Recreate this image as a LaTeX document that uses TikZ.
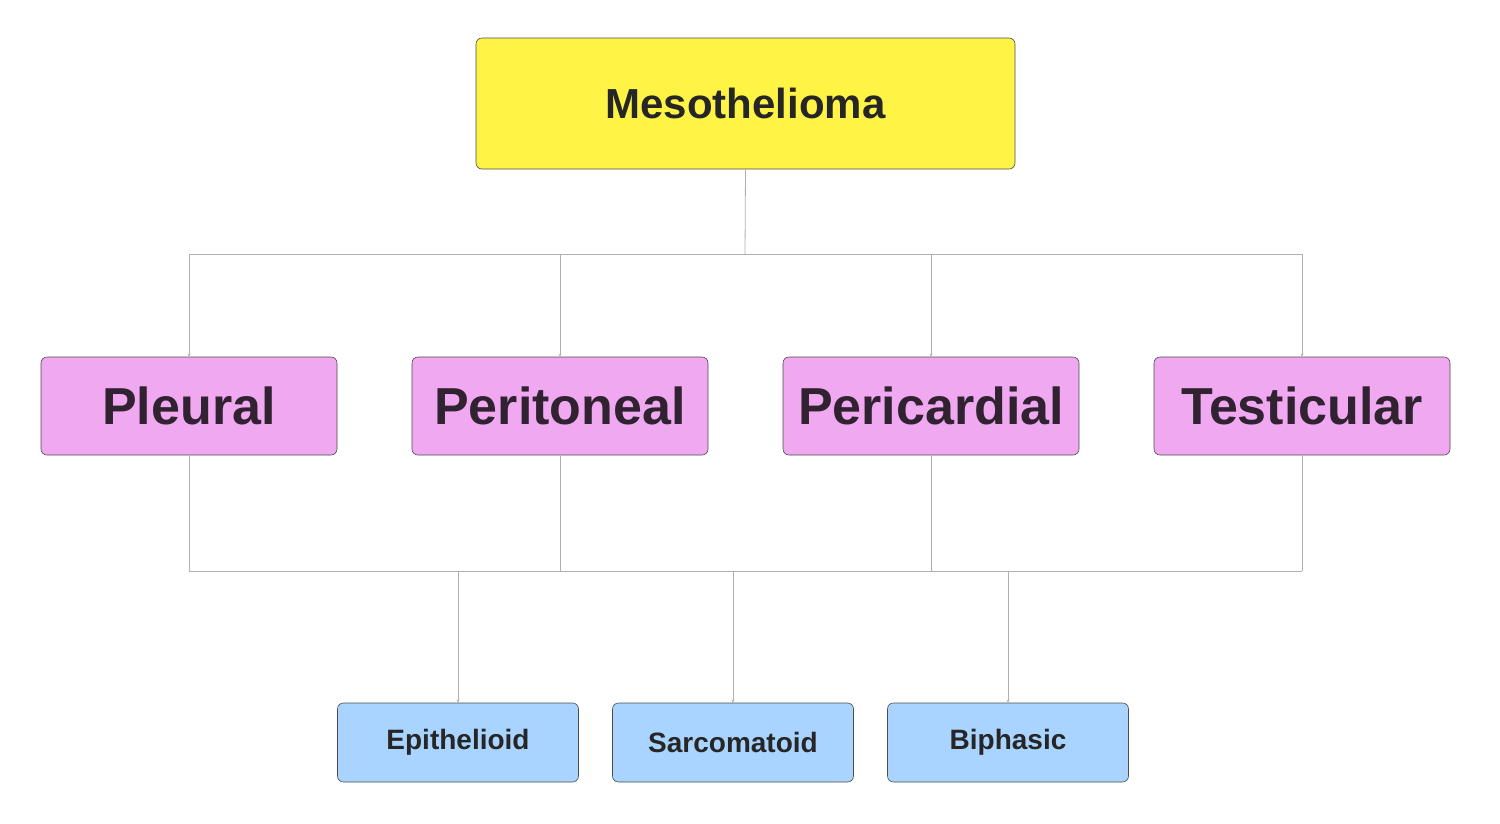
\documentclass[tikz,border=0pt]{standalone}
\usepackage{fontspec}
\setmainfont{Liberation Sans}
\usetikzlibrary{arrows.meta}
\definecolor{yel}{HTML}{FFF445}
\definecolor{pink}{HTML}{F0A8F0}
\definecolor{blu}{HTML}{A8D4FF}
\definecolor{ln}{HTML}{B0B0B0}
\begin{document}
\begin{tikzpicture}[x=1pt,y=-1pt,
 box/.style={draw=black!70,line width=0.6pt,rounded corners=6pt,inner sep=0pt,font=\bfseries},
 con/.style={draw=ln,line width=0.8pt},
 arr/.style={con,-{Stealth[length=3pt,width=3pt]}}]
\useasboundingbox (0,0) rectangle (1500,823);
\node[box,fill=yel,minimum width=539pt,minimum height=131pt,font=\bfseries\fontsize{42}{48}\selectfont,text=black!85] (m) at (745.5,103.5) {Mesothelioma};
\foreach \n/\x/\t in {a/189/Pleural,b/560/Peritoneal,c/931/Pericardial,d/1302/Testicular}
 \node[box,fill=pink,minimum width=296pt,minimum height=98pt,font=\bfseries\fontsize{52}{60}\selectfont,text=black!80!pink] (\n) at (\x,406) {\t};
\foreach \n/\x/\t in {e/458/Epithelioid,f/733/Sarcomatoid,g/1008/Biphasic}
 \node[box,fill=blu,minimum width=241pt,minimum height=79pt,font=\bfseries\fontsize{28}{32}\selectfont,text=black!85] (\n) at (\x,742.5) {\t};
\coordinate (t) at (745,254);
\coordinate (bj) at (733,571);
\draw[con] (m.south) -- (t);
\draw[con] (a.north|-t) -- (d.north|-t);
\foreach \n in {a,b,c,d} \draw[arr] (\n.north|-t) -- (\n.north);
\draw[con] (a.south|-bj) -- (d.south|-bj);
\foreach \n in {a,b,c,d} \draw[con] (\n.south) -- (\n.south|-bj);
\foreach \n in {e,f,g} \draw[arr] (\n.north|-bj) -- (\n.north);
\end{tikzpicture}
\end{document}
